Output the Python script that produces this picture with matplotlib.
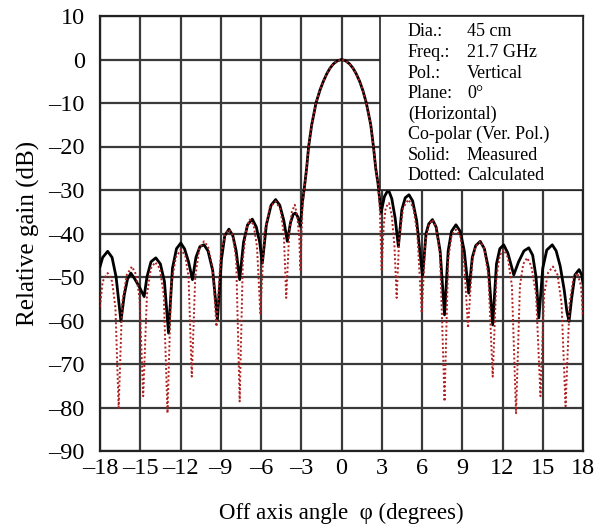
import matplotlib
matplotlib.use("Agg")
import matplotlib.pyplot as plt
from matplotlib.patches import Rectangle

plt.rcParams['font.family'] = ['Liberation Serif', 'DejaVu Serif']

# Measured (solid black)
meas_angle = [-18.0, -17.8, -17.43, -17.1, -16.8, -16.44, -16.19, -15.95, -15.7, -15.4,
              -15.08, -14.71, -14.5, -14.2, -13.84, -13.5, -13.2, -12.89, -12.6, -12.3,
              -11.98, -11.7, -11.4, -11.11, -10.85, -10.55, -10.25, -9.95, -9.6, -9.25,
              -8.95, -8.7, -8.39, -8.1, -7.85, -7.59, -7.3, -7.0, -6.65, -6.35,
              -6.1, -5.9, -5.6, -5.25, -4.91, -4.6, -4.3, -4.04, -3.8, -3.6,
              -3.43, -3.25, -3.06, -2.92, -2.75, -2.6, -2.45, -2.22, -1.9, -1.6,
              -1.35, -1.1, -0.86, -0.6, -0.3, 0.0, 0.3, 0.6, 0.86, 1.1,
              1.35, 1.6, 1.85, 2.18, 2.38, 2.55, 2.72, 2.95, 3.2, 3.49,
              3.75, 4.0, 4.24, 4.5, 4.75, 5.03, 5.3, 5.6, 6.04, 6.3,
              6.5, 6.78, 7.05, 7.35, 7.68, 7.95, 8.2, 8.53, 8.85, 9.15,
              9.48, 9.75, 10.0, 10.34, 10.65, 10.95, 11.27, 11.55, 11.8, 12.09,
              12.4, 12.84, 13.2, 13.6, 13.96, 14.25, 14.5, 14.71, 15.0, 15.3,
              15.71, 16.0, 16.3, 16.6, 16.8, 16.96, 17.15, 17.4, 17.71, 17.9,
              18.0]
meas_gain = [-47.6, -45.5, -44.1, -45.5, -50.0, -60.2, -54.1, -50.5, -49.1, -50.5,
             -52.2, -54.5, -50.0, -46.5, -45.6, -47.0, -51.0, -62.9, -48.0, -43.5,
             -42.2, -43.5, -46.5, -50.6, -45.5, -43.0, -42.6, -44.0, -48.5, -59.8,
             -46.0, -40.5, -39.0, -40.5, -44.0, -50.6, -42.0, -38.0, -36.7, -38.5,
             -42.0, -46.8, -38.0, -33.5, -32.2, -33.5, -37.0, -41.8, -37.5, -35.6,
             -35.3, -36.2, -38.4, -33.0, -29.0, -25.0, -20.0, -15.0, -10.0, -7.0,
             -5.0, -3.3, -2.0, -1.0, -0.3, 0.0, -0.3, -1.0, -2.0, -3.3,
             -5.0, -7.2, -10.0, -15.0, -20.0, -25.0, -28.5, -35.2, -31.5, -29.9,
             -32.0, -36.5, -43.0, -34.5, -31.8, -31.1, -32.5, -37.0, -49.9, -40.0,
             -37.8, -36.8, -38.5, -44.0, -58.7, -44.0, -39.5, -38.0, -39.5, -44.0,
             -53.7, -45.5, -42.8, -41.8, -43.5, -48.0, -61.0, -47.0, -43.5, -42.6,
             -44.5, -49.5, -46.5, -44.0, -43.3, -45.0, -50.0, -59.4, -48.0, -43.8,
             -42.6, -44.0, -47.5, -53.0, -58.0, -60.2, -55.0, -49.5, -48.3, -49.5,
             -51.4]

# Calculated (dotted red)
calc_angle = [-18.0, -17.8, -17.43, -17.1, -16.85, -16.61, -16.35, -16.0, -15.62, -15.3,
              -15.05, -14.78, -14.5, -14.2, -13.89, -13.55, -13.25, -12.97, -12.7, -12.35,
              -11.98, -11.65, -11.4, -11.16, -10.9, -10.6, -10.25, -9.95, -9.6, -9.32,
              -9.0, -8.7, -8.39, -8.1, -7.85, -7.59, -7.35, -7.1, -6.85, -6.55,
              -6.3, -6.05, -5.75, -5.35, -4.91, -4.55, -4.3, -4.12, -3.9, -3.7,
              -3.48, -3.3, -3.15, -3.06, -2.92, -2.75, -2.6, -2.45, -2.22, -1.9,
              -1.6, -1.35, -1.1, -0.86, -0.6, -0.3, 0.0, 0.3, 0.6, 0.86,
              1.1, 1.35, 1.6, 1.85, 2.18, 2.38, 2.55, 2.72, 2.85, 2.99,
              3.15, 3.3, 3.54, 3.75, 3.95, 4.11, 4.3, 4.6, 4.99, 5.35,
              5.65, 5.98, 6.25, 6.5, 6.78, 7.05, 7.35, 7.68, 7.95, 8.2,
              8.53, 8.85, 9.15, 9.43, 9.75, 10.0, 10.34, 10.65, 10.95, 11.27,
              11.55, 11.8, 12.09, 12.4, 12.7, 13.01, 13.3, 13.55, 13.84, 14.15,
              14.5, 14.83, 15.1, 15.4, 15.76, 16.1, 16.4, 16.7, 17.0, 17.3,
              17.58, 17.85, 18.0]
calc_gain = [-56.8, -51.0, -49.1, -51.0, -57.0, -80.1, -56.0, -49.5, -47.6, -49.5,
             -55.0, -77.4, -54.0, -48.0, -46.6, -48.0, -54.0, -81.3, -52.0, -45.5,
             -43.7, -45.0, -50.0, -72.9, -50.0, -43.5, -41.8, -43.0, -48.0, -61.4,
             -45.0, -40.5, -39.1, -40.5, -46.0, -78.6, -46.0, -39.0, -36.8, -38.0,
             -43.0, -58.3, -40.0, -34.0, -32.6, -34.5, -40.0, -54.8, -40.0, -35.0,
             -33.4, -36.0, -41.0, -48.3, -34.0, -29.0, -25.0, -20.0, -15.0, -10.0,
             -7.0, -5.0, -3.3, -2.0, -1.0, -0.3, 0.0, -0.3, -1.0, -2.0,
             -3.3, -5.0, -7.2, -10.0, -15.0, -20.0, -25.0, -28.5, -34.0, -48.3,
             -38.0, -34.0, -33.0, -36.0, -43.0, -54.8, -41.0, -34.0, -32.2, -34.0,
             -40.0, -58.3, -42.0, -38.0, -36.8, -38.5, -45.0, -78.6, -46.0, -40.5,
             -39.1, -40.5, -47.0, -61.7, -46.0, -43.0, -41.8, -43.5, -50.0, -72.9,
             -50.0, -45.0, -43.7, -45.5, -52.0, -81.3, -52.0, -47.0, -45.6, -47.5,
             -54.0, -77.4, -54.0, -49.0, -47.6, -49.5, -56.0, -79.7, -56.0, -50.0,
             -49.1, -52.0, -59.0]

x_ticks = [-18, -15, -12, -9, -6, -3, 0, 3, 6, 9, 12, 15, 18]
x_tick_labels = ['\u201318', '\u201315', '\u201312', '\u20139', '\u20136', '\u20133',
                 '0', '3', '6', '9', '12', '15', '18']
y_ticks = [10, 0, -10, -20, -30, -40, -50, -60, -70, -80, -90]
y_tick_labels = ['10', '0', '\u201310', '\u201320', '\u201330', '\u201340', '\u201350',
                 '\u201360', '\u201370', '\u201380', '\u201390']

info_rows = [("Dia.:", "45 cm"), ("Freq.:", "21.7 GHz"), ("Pol.:", "Vertical"),
             ("Plane:", "0\u00b0"), ("(Horizontal)", ""), ("Co-polar (Ver. Pol.)", ""),
             ("Solid:", "Measured"), ("Dotted:", "Calculated")]

fig = plt.figure(figsize=(5.96, 5.27), dpi=100)
ax = fig.add_axes([100 / 596, 1 - 451 / 527, (583 - 100) / 596, (451 - 16) / 527])

ax.plot(meas_angle, meas_gain, color='black', lw=2.0, zorder=3)
ax.plot(calc_angle, calc_gain, color='#b02020', lw=1.4, ls=(0, (1, 1.2)), zorder=4)

ax.set_xlim(-18, 18)
ax.set_ylim(-90, 10)
ax.set_xticks(x_ticks)
ax.set_xticklabels(x_tick_labels)
ax.set_yticks(y_ticks)
ax.set_yticklabels(y_tick_labels)
ax.tick_params(length=0, labelsize=17.5)
ax.tick_params(axis='y', pad=11)
ax.tick_params(axis='x', pad=5)
ax.grid(True, color='#3a3a3a', lw=1.6)
ax.set_axisbelow(True)
for s in ax.spines.values():
    s.set_color('#222222')
    s.set_linewidth(1.6)

ax.set_xlabel('Off axis angle  \u03c6 (degrees)', fontsize=16.5, labelpad=17)
ax.set_ylabel('Relative gain (dB)', fontsize=18, labelpad=6)

# Info box
bx0 = (380 - 100) / (583 - 100)
by0 = (451 - 190) / (451 - 16)
ax.add_patch(Rectangle((bx0, by0), 1 - bx0, 1 - by0, transform=ax.transAxes,
                       facecolor='white', edgecolor='#222222', lw=1.2, zorder=6))
col1 = (408 - 100) / (583 - 100)
col2 = (467 - 100) / (583 - 100)
for i, (a, b) in enumerate(info_rows):
    ypx = 32 + i * 20.5
    yy = (451 - ypx) / (451 - 16)
    ax.text(col1, yy, a, transform=ax.transAxes, fontsize=13, va='center', ha='left', zorder=7)
    if b:
        ax.text(col2, yy, b, transform=ax.transAxes, fontsize=13, va='center', ha='left', zorder=7)

fig.savefig('out.png', dpi=100)
